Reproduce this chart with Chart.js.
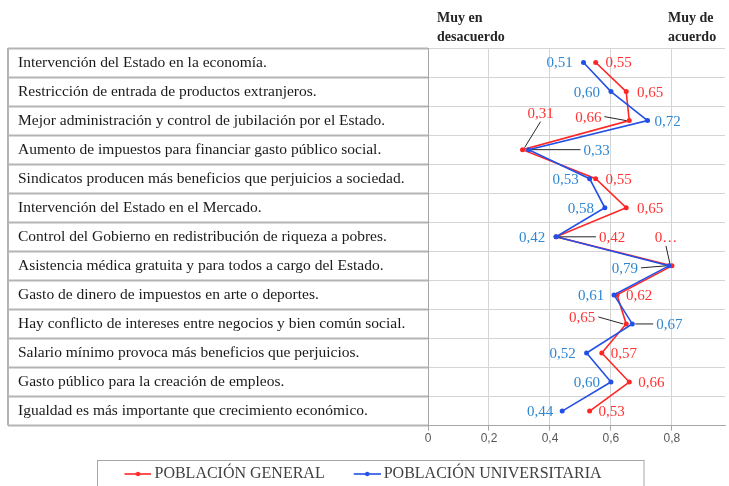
<!DOCTYPE html>
<html>
<head>
<meta charset="utf-8">
<script src="https://cdn.jsdelivr.net/npm/chart.js@4.4.0/dist/chart.umd.min.js"></script>
<style>
  html, body { margin: 0; padding: 0; background: #fff; }
  #wrap { width: 729px; height: 486px; }
</style>
</head>
<body>
<div id="wrap"><canvas id="chart" width="729" height="486"></canvas></div>
<script>
const categories = [
  'Intervención del Estado en la economía.',
  'Restricción de entrada de productos extranjeros.',
  'Mejor administración y control de jubilación por el Estado.',
  'Aumento de impuestos para financiar gasto público social.',
  'Sindicatos producen más beneficios que perjuicios a sociedad.',
  'Intervención del Estado en el Mercado.',
  'Control del Gobierno en redistribución de riqueza a pobres.',
  'Asistencia médica gratuita y para todos a cargo del Estado.',
  'Gasto de dinero de impuestos en arte o deportes.',
  'Hay conflicto de intereses entre negocios y bien común social.',
  'Salario mínimo provoca más beneficios que perjuicios.',
  'Gasto público para la creación de empleos.',
  'Igualdad es más importante que crecimiento económico.'
];
const generalValues = [0.55, 0.65, 0.66, 0.31, 0.55, 0.65, 0.42, 0.80, 0.62, 0.65, 0.57, 0.66, 0.53];
const univValues    = [0.51, 0.60, 0.72, 0.33, 0.53, 0.58, 0.42, 0.79, 0.61, 0.67, 0.52, 0.60, 0.44];
const xTicks = [0, 0.2, 0.4, 0.6, 0.8];
const seriesNames = ['POBLACIÓN GENERAL', 'POBLACIÓN UNIVERSITARIA'];

// label placement: [dx, dy, leader line]
const generalLabelPos = [[23,0],[24,0],[-41,-4,1],[18,-37,1],[23,0],[24,0],[56,0,1],[-6,-29,1],[22,0],[-44,-7,1],[22,0],[22,0],[22,0]];
const univLabelPos = [[-24,0],[-24,0],[20,0],[68,0,1],[-24,0],[-24,0],[-24,0],[-44,2,1],[-23,0],[37,0,1],[-24,0],[-24,0],[-22,0]];
const generalTruncated = [7]; // label shown cut off as "0…"

const RED = '#ff2626', BLUE = '#2350e6';
const RED_TXT = '#ff3333', BLUE_TXT = '#2f87d2';
const SERIF = '"Liberation Serif", "DejaVu Serif", serif';

// legend swatch: line + dot, drawn in the right part of a wider image
function legendMark(color) {
  const c = document.createElement('canvas');
  c.width = 51; c.height = 8;
  const g = c.getContext('2d');
  g.strokeStyle = color; g.lineWidth = 1.6;
  g.beginPath(); g.moveTo(24, 4); g.lineTo(51, 4); g.stroke();
  g.fillStyle = color;
  g.beginPath(); g.arc(37.5, 4, 2.2, 0, Math.PI * 2); g.fill();
  return c;
}

const fmt = v => v.toFixed(2).replace('.', ',');

const labelPlugin = {
  id: 'pointLabels',
  afterDatasetsDraw(chart) {
    const ctx = chart.ctx;
    ctx.save();
    ctx.font = '15px ' + SERIF;
    ctx.textAlign = 'center';
    ctx.textBaseline = 'middle';
    chart.data.datasets.forEach((ds, di) => {
      const meta = chart.getDatasetMeta(di);
      const pos = di === 0 ? generalLabelPos : univLabelPos;
      meta.data.forEach((pt, i) => {
        let txt = fmt(ds.data[i]);
        if (di === 0 && generalTruncated.includes(i)) txt = '0…';
        const [dx, dy, leader] = pos[i];
        const tx = pt.x + dx, ty = pt.y + dy;
        const w = ctx.measureText(txt).width;
        if (leader) {
          ctx.strokeStyle = '#262626';
          ctx.lineWidth = 1;
          ctx.beginPath();
          if (Math.abs(dy) > 15) {
            ctx.moveTo(tx, ty + 9);
            ctx.lineTo(pt.x + (dx > 0 ? 2 : -2), pt.y - 2);
          } else {
            const ex = dx > 0 ? tx - w / 2 - 3 : tx + w / 2 + 3;
            ctx.moveTo(ex, ty);
            ctx.lineTo(pt.x + (dx > 0 ? 3 : -3), pt.y);
          }
          ctx.stroke();
        }
        ctx.fillStyle = di === 0 ? RED_TXT : BLUE_TXT;
        ctx.fillText(txt, tx, ty + 1);
      });
    });
    ctx.restore();
  }
};

const framePlugin = {
  id: 'frame',
  afterLayout(chart) {
    // nudge the legend to where it sits in the original
    const lg = chart.legend;
    lg.left -= 20; lg.right -= 20;
    lg.top += 6; lg.bottom += 6;
  },
  afterDraw(chart) {
    const ctx = chart.ctx;
    const y = chart.scales.y, x = chart.scales.x;
    ctx.save();
    // left edge of the label table
    ctx.strokeStyle = '#b4b4b4';
    ctx.lineWidth = 2;
    ctx.beginPath();
    ctx.moveTo(y.left - 10, chart.chartArea.top);
    ctx.lineTo(y.left - 10, chart.chartArea.bottom);
    ctx.stroke();
    // header
    ctx.fillStyle = '#262626';
    ctx.font = 'bold 14px ' + SERIF;
    ctx.textBaseline = 'middle';
    ctx.textAlign = 'left';
    const l = x.getPixelForValue(0) + 9, r = x.getPixelForValue(0.8) - 4;
    ctx.fillText('Muy en', l, 18);
    ctx.fillText('desacuerdo', l, 37);
    ctx.fillText('Muy de', r, 18);
    ctx.fillText('acuerdo', r, 37);
    // legend box
    const hb = chart.legend.legendHitBoxes;
    if (hb && hb.length) {
      const a = hb[0], b = hb[hb.length - 1];
      ctx.strokeStyle = '#a6a6a6';
      ctx.lineWidth = 1;
      const bx = Math.round(a.left - 8) + 0.5;
      ctx.strokeRect(bx, Math.round(a.top - 6) + 0.5, Math.round(b.left + b.width + 42) - bx, 40);
    }
    ctx.restore();
  }
};

new Chart(document.getElementById('chart'), {
  type: 'line',
  data: {
    labels: categories,
    datasets: [
      { label: seriesNames[0], data: generalValues, borderColor: RED, backgroundColor: RED,
        borderWidth: 1.6, pointRadius: 2.5, pointBorderWidth: 0, order: 1 },
      { label: seriesNames[1], data: univValues, borderColor: BLUE, backgroundColor: BLUE,
        borderWidth: 1.6, pointRadius: 2.5, pointBorderWidth: 0, order: 0 }
    ]
  },
  options: {
    indexAxis: 'y',
    responsive: false,
    animation: false,
    layout: { padding: { left: 18, top: 48, right: 0, bottom: 0 } },
    elements: { point: { pointStyle: 'circle' } },
    plugins: {
      legend: {
        position: 'bottom',
        labels: {
          usePointStyle: true,
          pointStyleWidth: 41,
          padding: 10,
          color: '#404040',
          font: { family: SERIF, size: 16 },
          generateLabels(chart) {
            return chart.data.datasets.map((ds, i) => ({
              text: ds.label, fillStyle: ds.borderColor, strokeStyle: ds.borderColor,
              pointStyle: legendMark(ds.borderColor), lineWidth: 0, datasetIndex: i,
              fontColor: '#404040'
            }));
          }
        }
      },
      tooltip: { enabled: false }
    },
    scales: {
      x: {
        type: 'linear',
        min: 0,
        max: 0.974,
        afterBuildTicks(scale) { scale.ticks = xTicks.map(v => ({ value: v })); },
        afterFit(scale) { scale.height += 3; },
        ticks: {
          color: '#595959',
          font: { family: '"Liberation Sans", Arial, sans-serif', size: 12 },
          callback: v => v === 0 ? '0' : String(v).replace('.', ','),
          padding: 1
        },
        grid: { color: '#d4d4d4', lineWidth: 1, tickLength: 5, tickColor: '#a6a6a6' },
        border: { color: '#a6a6a6', width: 1 }
      },
      y: {
        type: 'category',
        offset: true,
        afterFit(scale) { scale.width = 410; },
        ticks: {
          crossAlign: 'far',
          color: '#1a1a1a',
          font: { family: SERIF, size: 15.5 },
          padding: 0
        },
        grid: { offset: true, color: '#d4d4d4', lineWidth: 1, tickLength: 420, tickColor: '#b4b4b4', tickWidth: 2 },
        border: { color: '#a6a6a6', width: 1 }
      }
    }
  },
  plugins: [labelPlugin, framePlugin]
});
</script>
</body>
</html>
